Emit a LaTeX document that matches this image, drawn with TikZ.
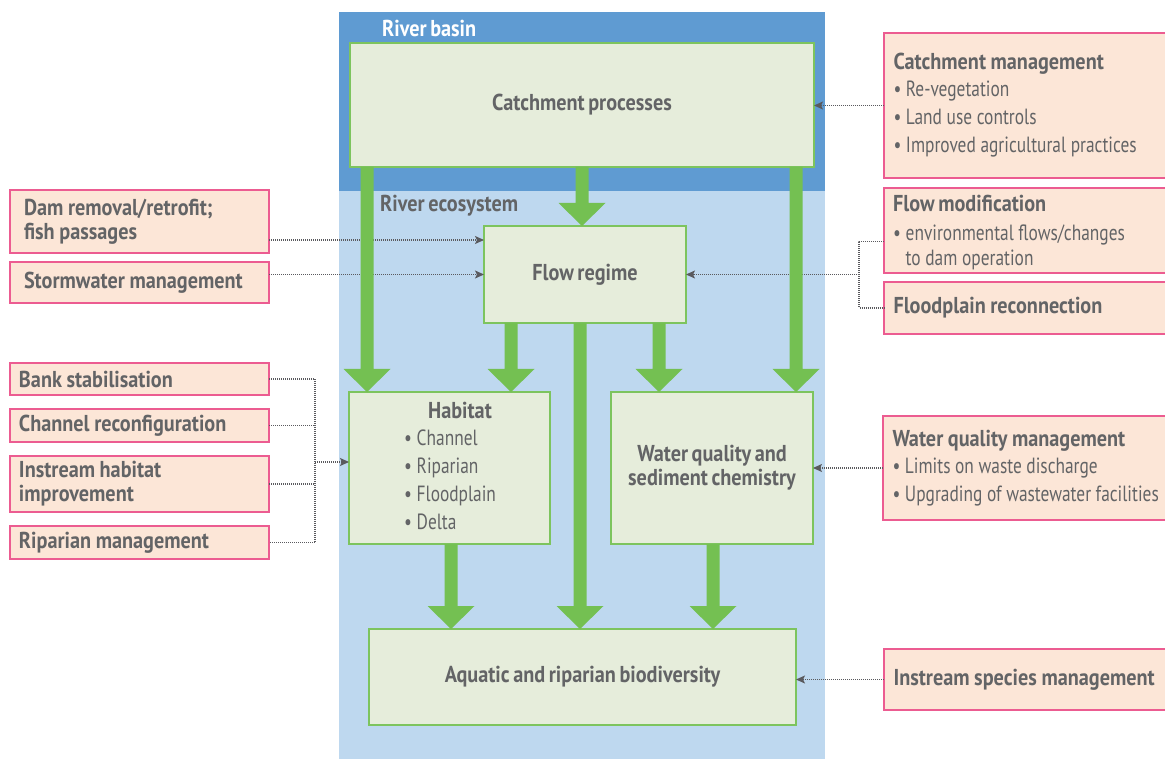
\documentclass[tikz,border=0pt]{standalone}
\usepackage{fontspec}
\setmainfont{PT Sans}
\newfontfamily\hdfont{PT Sans}[FakeStretch=0.88,WordSpace=0.7]
\newfontfamily\bdfont{PT Sans}[FakeStretch=0.79]
\usetikzlibrary{calc,arrows.meta}
\definecolor{dblue}{RGB}{95,155,210}
\definecolor{lblue}{RGB}{190,216,239}
\definecolor{gfill}{RGB}{230,237,219}
\definecolor{gborder}{RGB}{125,196,94}
\definecolor{arrowgreen}{RGB}{116,192,82}
\definecolor{pfill}{RGB}{252,230,215}
\definecolor{pborder}{RGB}{236,92,145}
\definecolor{tgray}{RGB}{99,100,102}
\definecolor{lgray}{RGB}{90,90,94}
\newcommand\hfnt{\hdfont\bfseries\fontsize{23pt}{24pt}\selectfont}
\newcommand\bfnt{\bdfont\fontsize{22pt}{28pt}\selectfont}
\newcommand\sps{\spaceskip=4.6pt plus 1pt minus 1pt\relax}
\newcommand\garrow[2]{\fill[arrowgreen] ($(#1)+(-6.5,0)$) -- ($(#2)+(-6.5,-23)$) -- ($(#2)+(-23.5,-23)$) -- (#2) -- ($(#2)+(23.5,-23)$) -- ($(#2)+(6.5,-23)$) -- ($(#1)+(6.5,0)$) -- cycle;}
\tikzset{
  gbox/.style={draw=gborder, fill=gfill, line width=1.5pt, inner sep=0pt, outer sep=0pt, text=tgray, font=\hfnt, align=center},
  pbox/.style={draw=pborder, fill=pfill, line width=2pt, inner ysep=0pt, outer sep=0pt, text=tgray, align=left, anchor=west},
  pboxr/.style={pbox, inner xsep=9.5pt, text width=300pt, font=\bfnt},
  pboxl/.style={pbox, font=\hfnt, text width=241pt, inner xsep=9pt},
  htext/.style={text=tgray, font=\hfnt, inner sep=0pt},
  btext/.style={text=tgray, font=\bfnt, inner sep=0pt, align=left},
  dotline/.style={draw=lgray, line width=1.1pt, dash pattern=on 1pt off 1pt},
  conn/.style={dotline, -{Stealth[length=9pt,width=8pt,inset=2pt]}}
}
\begin{document}
\begin{tikzpicture}[x=1pt,y=-1pt]
\useasboundingbox (0,0) rectangle (1165,759);
% background regions
\fill[dblue] (339,12) rectangle (825,191);
\fill[lblue] (339,191) rectangle (825,759);
\node[htext, text=white, anchor=west] (basin) at (382,28) {River basin};
\node[htext, anchor=west] (eco) at (380,206) {River ecosystem};
% main boxes
\node[gbox, minimum width=464pt, minimum height=124pt] (cp) at (582,105) {Catchment processes};
\node[gbox, minimum width=202pt, minimum height=97pt] (fr) at (585,274.5) {Flow regime};
\node[gbox, minimum width=201pt, minimum height=152pt] (hab) at (449.5,468) {};
\node[htext] (habt) at (460,410) {Habitat};
\node[btext, anchor=west] (habl) at (404,480) {• Channel\\• Riparian\\• Floodplain\\• Delta};
\node[gbox, minimum width=202pt, minimum height=152pt] (wq) at (712,468) {Water quality and\\sediment chemistry};
\node[gbox, minimum width=427pt, minimum height=96pt] (bio) at (582.5,677) {Aquatic and riparian biodiversity};
% right management boxes
\node[pboxr, minimum height=145pt] (cm) at (884,105.5) {\sps{\hfnt Catchment management}\\[-1pt]• Re-vegetation\\• Land use controls\\• Improved agricultural practices};
\node[pboxr, minimum height=85pt] (fm) at (884,230.5) {};
\node[btext, anchor=west] (fmt) at (893,233) {{\hfnt Flow modification}\\[1pt]• environmental flows/changes\\[-3pt]\phantom{•\ }to dam operation};
\node[pboxr, minimum height=52pt] (fpr) at (884,308) {\sps{\hfnt Floodplain reconnection}};
\node[pboxr, minimum height=104pt] (wqm) at (883,468) {\sps{\hfnt Water quality management}\\[-1pt]• Limits on waste discharge\\• Upgrading of wastewater facilities};
\node[pboxr, minimum height=61pt] (ism) at (884,679.5) {\sps{\hfnt Instream species management}};
% left management boxes
\node[pboxl, inner xsep=14pt, text width=231pt, minimum height=63pt] (dam) at (10,221.5) {\sps Dam removal/retrofit;\\fish passages};
\node[pboxl, inner xsep=14pt, text width=231pt, minimum height=41pt] (storm) at (10,282.5) {\sps Stormwater management};
\node[pboxl, minimum height=32pt] (bank) at (10,379) {\sps Bank stabilisation};
\node[pboxl, minimum height=33pt] (chan) at (10,425.5) {\sps Channel reconfiguration};
\node[pboxl, minimum height=56pt] (inst) at (10,484) {\sps Instream habitat\\improvement};
\node[pboxl, minimum height=33pt] (rip) at (10,542.5) {\sps Riparian management};
% dotted connectors
\draw[conn] (cm.west) -- (cm.west -| cp.east);
\coordinate (d1) at ($(dam.south east)+(0,-13)$);
\draw[conn] (d1) -- (d1 -| fr.west);
\draw[conn] (storm.east |- fr.west) -- (fr.west);
\coordinate (bx) at (859,0);
\coordinate (f1) at ($(fm.west)+(0,11)$);
\draw[dotline] (f1) -| (bx |- fpr.west) -- (fpr.west);
\draw[conn] (bx |- fr.east) -- (fr.east);
\coordinate (lx) at (315,0);
\draw[dotline] (bank.east) -| (lx |- rip.east) -- (rip.east);
\draw[dotline] (chan.east) -- (chan.east -| lx);
\draw[dotline] (inst.east) -- (inst.east -| lx);
\coordinate (hj) at (315,462);
\draw[conn] (hj) -- (hj -| hab.west);
\draw[conn] (wqm.west) -- (wqm.west -| wq.east);
\draw[conn] (ism.west) -- (ism.west -| bio.east);
% green flow arrows
\coordinate (x1) at (367,0);
\coordinate (x2) at (582,0);
\coordinate (x3) at (796,0);
\coordinate (x4) at (511,0);
\coordinate (x5) at (659,0);
\coordinate (x6) at (580,0);
\coordinate (x7) at (451,0);
\coordinate (x8) at (713,0);
\coordinate (s1) at (cp.south -| x1); \coordinate (t1) at (hab.north -| x1);
\coordinate (s2) at (cp.south -| x2); \coordinate (t2) at (fr.north -| x2);
\coordinate (s3) at (cp.south -| x3); \coordinate (t3) at (wq.north -| x3);
\coordinate (s4) at (fr.south -| x4); \coordinate (t4) at (hab.north -| x4);
\coordinate (s5) at (fr.south -| x5); \coordinate (t5) at (wq.north -| x5);
\coordinate (s6) at (fr.south -| x6); \coordinate (t6) at (bio.north -| x6);
\coordinate (s7) at (hab.south -| x7); \coordinate (t7) at (bio.north -| x7);
\coordinate (s8) at (wq.south -| x8); \coordinate (t8) at (bio.north -| x8);
\garrow{s1}{t1}
\garrow{s2}{t2}
\garrow{s3}{t3}
\garrow{s4}{t4}
\garrow{s5}{t5}
\garrow{s6}{t6}
\garrow{s7}{t7}
\garrow{s8}{t8}
\end{tikzpicture}
\end{document}
